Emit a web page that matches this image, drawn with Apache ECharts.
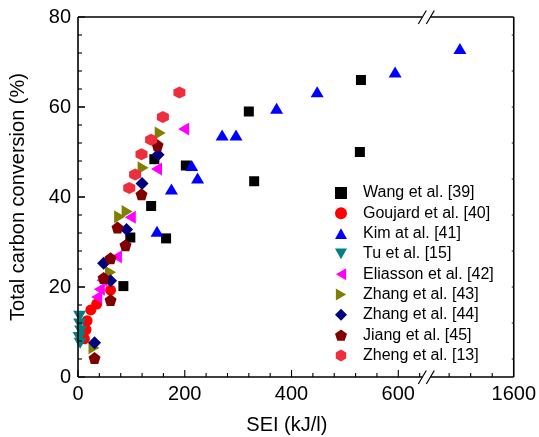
<!DOCTYPE html>
<html>
<head>
<meta charset="utf-8">
<script src="https://cdn.jsdelivr.net/npm/echarts@6/dist/echarts.min.js"></script>
<style>
  html, body { margin: 0; padding: 0; background: #ffffff; }
  #chart { width: 539px; height: 437px; }
</style>
</head>
<body>
<div id="chart"></div>
<script>
// Total carbon conversion (%) versus specific energy input SEI (kJ/l)
const seriesNames = [
  'Wang et al. [39]', 'Goujard et al. [40]', 'Kim at al. [41]', 'Tu et al. [15]',
  'Eliasson et al. [42]', 'Zhang et al. [43]', 'Zhang et al. [44]', 'Jiang et al. [45]',
  'Zheng et al. [13]'
];

// [SEI, conversion]
const wang = [[85, 20.2], [98, 31], [137, 38], [143, 48.4], [165, 30.8], [202, 47], [320, 59], [330, 43.5], [528, 50], [530, 66]];
const goujard = [[12, 8.5], [15, 10.5], [17, 12.5], [24, 14.9], [35, 16.2], [61, 19.3]];
const kim = [[148, 32.4], [175, 41.8], [213, 47], [224, 44.2], [270, 53.8], [296, 53.8], [372, 59.7], [448, 63.4], [594, 67.8], [1500, 73]];
const tu = [[3, 13.5], [3, 11.8], [5, 10.2], [2, 8.8], [4, 7.5]];
const eliasson = [[35, 17.8], [40, 19.5], [45, 21.5], [72, 26.7], [98, 35.5], [147, 46.2], [198, 55.1]];
const zhang43 = [[30, 6.5], [61, 23.3], [78, 35.6], [92, 36.8], [122, 46.5], [154, 54.2]];
const zhang44 = [[31, 7.6], [48, 25.3], [61, 21.4], [91, 32.8], [120, 43], [150, 49.4]];
const jiang = [[31, 4.2], [48, 22], [61, 17.1], [61, 26.4], [74, 33.2], [89, 29.3], [119, 40.6], [149, 51.5]];
const zheng = [[96, 42], [107, 45], [119, 49.5], [137, 52.7], [159, 57.8], [190, 63.2]];

// axis tick labels
const xLabelsLeft = [0, 200, 400, 600];
const xLabelsRight = [1600];
const yLabels = [0, 20, 40, 60, 80];

// tick marks drawn on the frame
const xTicksLeft = [0, 40, 80, 120, 160, 200, 240, 280, 320, 360, 400, 440, 480, 520, 560, 600, 640];
const xTicksRight = [1480, 1520, 1560];
const yTicksLeft = [4, 8, 12, 16, 20, 24, 28, 32, 36, 40, 44, 48, 52, 56, 60, 64, 68, 72, 76];
const yTicksRight = [4, 12, 20, 28, 36, 44, 52, 60, 68, 76];

const seriesData = [wang, goujard, kim, tu, eliasson, zhang43, zhang44, jiang, zheng];
const colors = ['#000000', '#ff0000', '#0000ff', '#008080', '#ff00ff', '#808000', '#000080', '#800000', '#ee2d3d'];
const symbols = [
  'rect',
  'circle',
  'path://M0,-10 L10,8 L-10,8 Z',
  'path://M0,8 L10,-10 L-10,-10 Z',
  'path://M-9,0 L8,-10 L8,10 Z',
  'path://M9,0 L-8,-10 L-8,10 Z',
  'diamond',
  'path://M0,-10 L9.51,-3.09 L5.88,8.09 L-5.88,8.09 L-9.51,-3.09 Z',
  'path://M0,-10 L8.66,-5 L8.66,5 L0,10 L-8.66,5 L-8.66,-5 Z'
];
const sizes = [10, 11, [13, 11], [13, 11], [11, 13], [11, 13], [13, 13], [12, 12], [12, 12]];

const FONT = 'Liberation Sans, Arial, sans-serif';

// plot frame layout (split horizontal axis)
const G = { left: 74, top: 17, height: 360, leftWidth: 351, rightLeft: 427.6, rightWidth: 86.4 };

const noSplit = { show: false };
const noLabel = { show: false };
function onlyLabels(list) {
  return {
    formatter: v => (list.indexOf(v) >= 0 ? String(v) : ''),
    fontSize: 20, color: '#000', margin: 7, fontFamily: FONT
  };
}

const series = [];
seriesData.forEach((d, i) => {
  [0, 1].forEach(g => {
    series.push({
      name: seriesNames[i],
      type: 'scatter',
      xAxisIndex: g,
      yAxisIndex: g,
      data: d,
      symbol: symbols[i],
      symbolSize: sizes[i],
      itemStyle: { color: colors[i], opacity: 1 },
      clip: true,
      emphasis: { disabled: true }
    });
  });
});

const option = {
  animation: false,
  backgroundColor: '#ffffff',
  textStyle: { fontFamily: FONT },
  grid: [
    { left: G.left, top: G.top, width: G.leftWidth, height: G.height },
    { left: G.rightLeft, top: G.top, width: G.rightWidth, height: G.height }
  ],
  xAxis: [
    {
      gridIndex: 0, type: 'value', min: 0, max: 650, interval: 40,
      axisLine: { show: false }, axisTick: { show: false }, axisLabel: onlyLabels(xLabelsLeft), splitLine: noSplit
    },
    {
      gridIndex: 1, type: 'value', min: 1440, max: 1600, interval: 40,
      axisLine: { show: false }, axisTick: { show: false }, axisLabel: onlyLabels(xLabelsRight), splitLine: noSplit
    }
  ],
  yAxis: [
    {
      gridIndex: 0, type: 'value', min: 0, max: 80, interval: 20,
      name: 'Total carbon conversion (%)', nameLocation: 'middle', nameGap: 50,
      nameTextStyle: { fontSize: 20, color: '#000', fontFamily: FONT },
      axisLine: { show: false }, axisTick: { show: false }, axisLabel: onlyLabels(yLabels), splitLine: noSplit
    },
    {
      gridIndex: 1, type: 'value', min: 0, max: 80,
      axisLine: { show: false }, axisTick: { show: false }, axisLabel: noLabel, splitLine: noSplit
    }
  ],
  legend: {
    data: seriesNames,
    orient: 'vertical',
    left: 335, top: 185,
    padding: 0,
    itemWidth: 12, itemHeight: 12, itemGap: 4.3,
    selectedMode: false,
    textStyle: { fontSize: 16, lineHeight: 16, color: '#000', fontFamily: FONT, padding: [0, 0, 0, 11] }
  },
  series: series
};

const chart = echarts.init(document.getElementById('chart'), null, { renderer: 'canvas' });
chart.setOption(option);

// Frame, ticks and axis-break marks, placed through the axes' own scales,
// drawn on their own canvas layer
const toA = v => chart.convertToPixel({ xAxisIndex: 0, yAxisIndex: 0 }, v);
const toB = v => chart.convertToPixel({ xAxisIndex: 1, yAxisIndex: 1 }, v);
const bl = toA([0, 0]);
const tr = toB([1600, 80]);
const brk = (toA([650, 0])[0] + toB([1440, 0])[0]) / 2;
const LAYER = 1;

const els = [];
const edge = (x1, y1, x2, y2, w) => ({
  type: 'line', zlevel: LAYER, z: 50,
  shape: { x1: x1, y1: y1, x2: x2, y2: y2 },
  style: { stroke: '#000000', lineWidth: w }
});
els.push(edge(bl[0], bl[1], tr[0], bl[1], 1.6));
els.push(edge(bl[0], tr[1], tr[0], tr[1], 1.6));
els.push(edge(bl[0], bl[1], bl[0], tr[1], 1.6));
els.push(edge(tr[0], bl[1], tr[0], tr[1], 1.6));
xTicksLeft.forEach(v => {
  const x = toA([v, 0])[0];
  const len = xLabelsLeft.indexOf(v) >= 0 ? 7 : 4;
  els.push(edge(x, bl[1], x, bl[1] - len, 1.1));
});
xTicksRight.forEach(v => {
  const x = toB([v, 0])[0];
  els.push(edge(x, bl[1], x, bl[1] - 4, 1.1));
});
yLabels.concat(yTicksLeft).forEach(v => {
  const y = toA([0, v])[1];
  const len = yLabels.indexOf(v) >= 0 ? 7 : 4;
  els.push(edge(bl[0], y, bl[0] + len, y, 1.1));
});
yTicksRight.forEach(v => {
  const y = toB([1600, v])[1];
  els.push(edge(tr[0], y, tr[0] - 2, y, 0.9));
});
[tr[1], bl[1]].forEach(y => {
  els.push({
    type: 'group', x: brk, y: y, zlevel: LAYER, z: 100,
    children: [
      { type: 'rect', zlevel: LAYER, z: 100, shape: { x: -4, y: -2, width: 8, height: 4 }, style: { fill: '#fff' } },
      { type: 'rect', zlevel: LAYER, z: 100, shape: { x: -3, y: -8, width: 6, height: 6 }, style: { fill: '#fff' } },
      { type: 'line', zlevel: LAYER, z: 101, shape: { x1: -8, y1: 7, x2: 0, y2: -6.5 }, style: { stroke: '#000', lineWidth: 1.2 } },
      { type: 'line', zlevel: LAYER, z: 101, shape: { x1: 0, y1: 7, x2: 8, y2: -6.5 }, style: { stroke: '#000', lineWidth: 1.2 } }
    ]
  });
});
els.push({
  type: 'text', x: (bl[0] + tr[0]) / 2 - 9, y: 425,
  style: { text: 'SEI (kJ/l)', fontSize: 20, fontFamily: FONT, fill: '#000', align: 'center', verticalAlign: 'middle' }
});

chart.setOption({ graphic: { elements: els } });
</script>
</body>
</html>
